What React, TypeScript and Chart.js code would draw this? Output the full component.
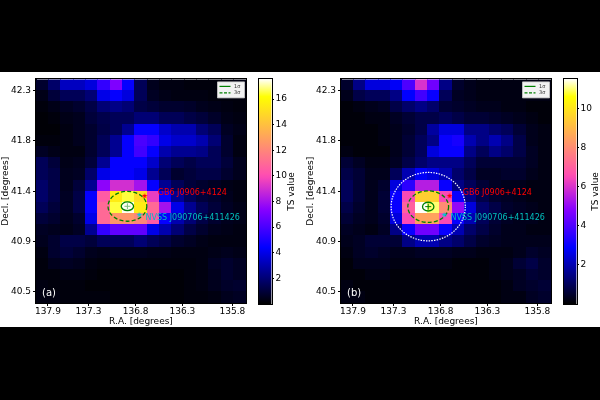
import React, { useEffect, useRef } from 'react';
import { Chart, registerables } from 'chart.js';
Chart.register(...registerables);

const FONT = 'DejaVu Sans';

// ---------- data ----------
const nCols = 17;
const nRows = 20;
const raTickPos = [0.97, 4.25, 8.06, 11.85, 15.9];
const raTickLabels = ['137.9', '137.3', '136.8', '136.3', '135.8'];
const decTickPos = [1, 5.5, 10, 14.5, 19];
const decTickLabels = ['40.5', '40.9', '41.4', '41.8', '42.3'];

// TS maps, rows from top (north) to bottom, columns left to right
const tsMapA = [
  [0.8, 1.8, 3.3, 3.3, 3.8, 5.5, 7.2, 4.5, 1.5, 0.5, 0.3, 0.3, 0.2, 0.2, 0.2, 0.2, 0.3],
  [0.4, 1.0, 1.5, 1.5, 2.0, 4.0, 4.5, 3.8, 1.5, 0.6, 0.4, 0.3, 0.3, 0.3, 0.2, 0.2, 0.2],
  [0.2, 0.4, 0.6, 0.8, 1.2, 2.0, 2.3, 2.0, 1.2, 1.0, 0.8, 0.8, 0.7, 0.5, 0.4, 0.3, 0.2],
  [0.1, 0.2, 0.4, 0.5, 1.0, 1.3, 1.5, 1.5, 2.0, 2.0, 1.5, 1.5, 1.2, 1.0, 0.7, 0.4, 0.3],
  [0.1, 0.1, 0.3, 0.5, 0.8, 1.2, 1.5, 2.5, 4.5, 4.5, 3.5, 3.0, 3.0, 2.0, 1.5, 0.6, 0.4],
  [0.2, 0.2, 0.3, 0.5, 0.8, 1.5, 2.5, 4.5, 6.0, 5.5, 4.0, 3.5, 3.5, 3.0, 2.0, 0.8, 0.3],
  [0.6, 0.4, 0.3, 0.3, 0.8, 1.5, 2.5, 4.5, 5.8, 4.5, 3.0, 2.5, 2.5, 2.3, 1.5, 0.8, 0.3],
  [1.5, 1.0, 0.4, 0.5, 1.0, 2.5, 4.5, 4.5, 4.5, 3.5, 2.0, 1.5, 1.2, 1.5, 1.5, 1.0, 0.5],
  [1.5, 1.2, 0.5, 0.6, 1.8, 4.0, 4.5, 4.5, 4.0, 2.5, 1.5, 0.8, 1.0, 1.2, 1.2, 0.8, 0.5],
  [1.8, 1.2, 0.5, 1.0, 2.5, 7.5, 9.0, 9.0, 8.0, 4.5, 2.5, 1.5, 1.0, 0.8, 0.6, 0.4, 0.3],
  [1.8, 1.2, 0.6, 1.2, 4.5, 10.5, 15.5, 16.5, 15.0, 9.5, 4.5, 2.5, 1.5, 1.0, 0.8, 0.5, 0.3],
  [1.5, 1.0, 0.6, 1.2, 4.5, 11.0, 16.5, 17.5, 15.5, 11.0, 8.0, 4.0, 2.5, 1.5, 1.0, 0.6, 0.4],
  [1.0, 0.8, 0.5, 0.8, 4.0, 11.0, 12.5, 12.5, 12.0, 10.5, 4.5, 3.0, 2.0, 1.2, 0.8, 0.5, 0.4],
  [0.6, 0.5, 0.4, 0.6, 2.5, 5.5, 6.5, 6.5, 6.5, 4.0, 3.0, 2.0, 1.2, 0.8, 0.5, 0.4, 0.3],
  [0.5, 0.8, 1.2, 1.2, 1.0, 1.5, 1.5, 1.5, 2.0, 1.5, 1.2, 0.8, 0.6, 0.4, 0.3, 0.3, 0.3],
  [0.3, 0.8, 1.0, 0.8, 0.5, 0.4, 0.5, 0.5, 0.5, 0.4, 0.4, 0.3, 0.3, 0.3, 0.4, 0.5, 0.4],
  [0.2, 0.5, 0.6, 0.5, 0.3, 0.2, 0.2, 0.2, 0.2, 0.2, 0.2, 0.2, 0.2, 0.3, 0.6, 0.8, 0.6],
  [0.2, 0.2, 0.3, 0.3, 0.2, 0.1, 0.1, 0.1, 0.1, 0.1, 0.1, 0.1, 0.2, 0.3, 0.5, 0.8, 0.6],
  [0.3, 0.2, 0.2, 0.2, 0.1, 0.1, 0.1, 0.1, 0.1, 0.1, 0.1, 0.1, 0.2, 0.3, 0.5, 0.7, 0.8],
  [0.3, 0.3, 0.2, 0.2, 0.2, 0.2, 0.1, 0.1, 0.1, 0.1, 0.1, 0.1, 0.2, 0.2, 0.3, 0.5, 0.6],
];

const tsMapB = [
  [0.5, 1.5, 2.5, 2.5, 2.8, 4.0, 6.0, 4.5, 1.5, 0.5, 0.3, 0.2, 0.2, 0.2, 0.2, 0.2, 0.2],
  [0.3, 0.8, 1.0, 1.0, 1.5, 2.9, 3.8, 3.0, 1.0, 0.4, 0.3, 0.2, 0.2, 0.2, 0.2, 0.2, 0.2],
  [0.1, 0.2, 0.3, 0.4, 0.8, 1.2, 1.5, 1.2, 0.6, 0.5, 0.4, 0.3, 0.3, 0.2, 0.2, 0.1, 0.1],
  [0.1, 0.1, 0.2, 0.2, 0.4, 0.6, 0.8, 0.8, 1.0, 0.8, 0.6, 0.6, 0.5, 0.4, 0.3, 0.2, 0.1],
  [0.1, 0.1, 0.1, 0.2, 0.3, 0.5, 0.8, 1.8, 2.5, 2.5, 1.5, 1.5, 1.2, 1.0, 0.6, 0.3, 0.2],
  [0.1, 0.1, 0.1, 0.2, 0.3, 0.6, 1.0, 1.5, 3.0, 3.2, 2.0, 1.5, 2.0, 1.5, 0.8, 0.3, 0.2],
  [0.2, 0.1, 0.1, 0.1, 0.3, 0.6, 1.0, 2.5, 3.0, 3.0, 1.5, 1.0, 1.5, 1.2, 0.8, 0.4, 0.2],
  [0.6, 0.4, 0.2, 0.2, 0.4, 0.8, 1.2, 1.5, 1.5, 1.5, 1.0, 0.6, 0.6, 0.6, 0.6, 0.4, 0.2],
  [0.8, 0.6, 0.3, 0.3, 1.0, 2.0, 2.8, 2.5, 2.0, 1.2, 0.8, 0.4, 0.4, 0.5, 0.5, 0.3, 0.2],
  [1.0, 0.6, 0.3, 0.5, 2.5, 3.5, 5.5, 5.5, 3.0, 1.5, 1.0, 0.6, 0.4, 0.3, 0.3, 0.2, 0.2],
  [1.0, 0.6, 0.3, 0.6, 3.0, 6.5, 9.5, 9.5, 6.5, 3.0, 1.5, 0.8, 0.5, 0.4, 0.3, 0.2, 0.2],
  [0.8, 0.5, 0.3, 0.6, 3.0, 7.0, 11.5, 11.0, 8.0, 5.0, 2.5, 1.2, 0.8, 0.5, 0.4, 0.3, 0.2],
  [0.6, 0.4, 0.3, 0.5, 2.5, 6.5, 8.5, 8.5, 6.5, 3.0, 2.0, 1.0, 0.6, 0.4, 0.3, 0.3, 0.2],
  [0.4, 0.3, 0.2, 0.4, 1.5, 3.0, 4.5, 4.5, 3.0, 2.0, 1.2, 0.8, 0.5, 0.3, 0.3, 0.2, 0.2],
  [0.3, 0.4, 0.6, 0.6, 0.6, 1.5, 2.0, 2.0, 1.5, 1.2, 0.8, 0.5, 0.4, 0.3, 0.3, 0.3, 0.3],
  [0.2, 0.4, 0.5, 0.4, 0.3, 0.3, 0.4, 0.4, 0.4, 0.3, 0.3, 0.2, 0.2, 0.2, 0.3, 0.5, 0.4],
  [0.1, 0.3, 0.3, 0.3, 0.2, 0.2, 0.2, 0.2, 0.2, 0.1, 0.1, 0.1, 0.2, 0.3, 0.6, 0.8, 0.5],
  [0.1, 0.1, 0.2, 0.2, 0.1, 0.1, 0.1, 0.1, 0.1, 0.1, 0.1, 0.1, 0.2, 0.3, 0.4, 0.6, 0.5],
  [0.2, 0.1, 0.1, 0.1, 0.1, 0.1, 0.1, 0.1, 0.1, 0.1, 0.1, 0.1, 0.1, 0.2, 0.4, 0.5, 0.6],
  [0.2, 0.2, 0.1, 0.1, 0.1, 0.1, 0.1, 0.1, 0.1, 0.1, 0.1, 0.1, 0.1, 0.2, 0.2, 0.4, 0.5],
];

const vmaxA = 17.57;
const vmaxB = 11.52;
const cbTicksA = [2, 4, 6, 8, 10, 12, 14, 16];
const cbTicksB = [2, 4, 6, 8, 10];

const gb6Label = 'GB6 J0906+4124';
const nvssLabel = 'NVSS J090706+411426';
const gb6Point = [{ x: 8.79, y: 9.58 }];
const nvssPoint = [{ x: 8.37, y: 7.89 }];
const gb6Text = { x: 9.86, y: 9.81 };
const nvssText = { x: 8.87, y: 7.62 };

const centerA = [{ x: 7.4, y: 8.65 }];
const sigma1A = { rx: 0.5, ry: 0.39 };
const sigma3A = { rx: 1.57, ry: 1.34 };
const centerB = [{ x: 7.06, y: 8.62 }];
const sigma1B = { rx: 0.46, ry: 0.39 };
const sigma3B = { rx: 1.65, ry: 1.41 };
const psfB = { rx: 3.0, ry: 3.06 };

// ---------- helpers ----------
const clamp = (v: number) => Math.max(0, Math.min(1, v));
function gnuplot2(t: number) {
  t = clamp(t);
  const r = clamp(t / 0.32 - 0.78125);
  const g = clamp(2 * t - 0.84);
  let b: number;
  if (t < 0.25) b = 4 * t;
  else if (t < 0.42) b = 1;
  else if (t < 0.92) b = -2 * t + 1.84;
  else b = t / 0.08 - 11.5;
  b = clamp(b);
  return `rgb(${Math.round(r * 255)},${Math.round(g * 255)},${Math.round(b * 255)})`;
}

function starImage(color: string, r: number) {
  const s = Math.ceil(r * 2 + 2);
  const c = document.createElement('canvas');
  c.width = s;
  c.height = s;
  const g = c.getContext('2d')!;
  g.translate(s / 2, s / 2);
  g.beginPath();
  for (let i = 0; i < 10; i++) {
    const rad = i % 2 === 0 ? r : r * 0.42;
    const a = -Math.PI / 2 + (i * Math.PI) / 5;
    g.lineTo(rad * Math.cos(a), rad * Math.sin(a));
  }
  g.closePath();
  g.fillStyle = color;
  g.fill();
  return c;
}

const heatPlugin = {
  id: 'heat',
  beforeDatasetsDraw(chart: any, _a: any, opts: any) {
    const { ctx, chartArea, scales } = chart;
    const xs = scales.x;
    const ys = scales.y;
    ctx.save();
    ctx.beginPath();
    ctx.rect(chartArea.left, chartArea.top, chartArea.width, chartArea.height);
    ctx.clip();
    (opts.values as number[][]).forEach((row, r) => {
      row.forEach((v, c) => {
        const x0 = xs.getPixelForValue(c);
        const x1 = xs.getPixelForValue(c + 1);
        const yt = ys.getPixelForValue(nRows - r);
        const yb = ys.getPixelForValue(nRows - r - 1);
        ctx.fillStyle = gnuplot2(v / opts.vmax);
        ctx.fillRect(Math.floor(x0), Math.floor(yt), Math.ceil(x1) - Math.floor(x0), Math.ceil(yb) - Math.floor(yt));
      });
    });
    // contours
    const drawEll = (cx: number, cy: number, e: any, color: string, dash: number[], lw: number) => {
      const px = xs.getPixelForValue(cx);
      const py = ys.getPixelForValue(cy);
      const rx = Math.abs(xs.getPixelForValue(cx + e.rx) - px);
      const ry = Math.abs(ys.getPixelForValue(cy + e.ry) - py);
      ctx.beginPath();
      ctx.setLineDash(dash);
      ctx.strokeStyle = color;
      ctx.lineWidth = lw;
      ctx.ellipse(px, py, rx, ry, 0, 0, Math.PI * 2);
      ctx.stroke();
    };
    const c = opts.center[0];
    if (opts.psf) drawEll(c.x, c.y, opts.psf, '#ffffff', [1.5, 1.2], 1.2);
    drawEll(c.x, c.y, opts.s3, '#008000', [4, 2.2], 1.3);
    drawEll(c.x, c.y, opts.s1, '#008000', [], 1.3);
    ctx.setLineDash([]);
    ctx.restore();
  },
  afterDraw(chart: any, _a: any, opts: any) {
    const { ctx, chartArea, scales } = chart;
    const xs = scales.x;
    const ys = scales.y;
    ctx.save();
    // labels
    ctx.font = `8px "${FONT}"`;
    ctx.textBaseline = 'middle';
    ctx.textAlign = 'left';
    ctx.fillStyle = '#ff0000';
    ctx.fillText(gb6Label, xs.getPixelForValue(gb6Text.x), ys.getPixelForValue(gb6Text.y));
    ctx.fillStyle = '#00bfbf';
    ctx.fillText(nvssLabel, xs.getPixelForValue(nvssText.x), ys.getPixelForValue(nvssText.y));
    // panel tag
    ctx.font = `10px "${FONT}"`;
    ctx.fillStyle = '#ffffff';
    ctx.fillText(opts.tag, chartArea.left + 6, chartArea.bottom - 10);
    // legend
    const bw = 27, bh = 16;
    const bx = chartArea.right - 2 - bw;
    const by = chartArea.top + 2;
    ctx.fillStyle = 'rgba(255,255,255,0.95)';
    ctx.strokeStyle = '#cccccc';
    ctx.lineWidth = 0.8;
    ctx.beginPath();
    ctx.rect(bx + 0.5, by + 0.5, bw, bh);
    ctx.fill();
    ctx.stroke();
    ctx.strokeStyle = '#008000';
    ctx.lineWidth = 1.2;
    ctx.beginPath();
    ctx.moveTo(bx + 2.5, by + 5);
    ctx.lineTo(bx + 13.5, by + 5);
    ctx.stroke();
    ctx.setLineDash([3, 1.5]);
    ctx.beginPath();
    ctx.moveTo(bx + 2.5, by + 11.5);
    ctx.lineTo(bx + 13.5, by + 11.5);
    ctx.stroke();
    ctx.setLineDash([]);
    ctx.fillStyle = '#333';
    ctx.font = `5px "${FONT}"`;
    ctx.fillText('1σ', bx + 17, by + 5);
    ctx.fillText('3σ', bx + 17, by + 11.5);
    // frame
    ctx.strokeStyle = '#000';
    ctx.lineWidth = 1;
    ctx.strokeRect(Math.round(chartArea.left) - 0.5, Math.round(chartArea.top) - 0.5, Math.round(chartArea.width) + 1, Math.round(chartArea.height) + 1);
    ctx.restore();
  },
};

const axisFont = { family: FONT, size: 9 };

function HeatPanel(props: any) {
  const ref = useRef<HTMLCanvasElement>(null);
  useEffect(() => {
    const chart = new Chart(ref.current!, {
      type: 'scatter',
      data: {
        datasets: [
          {
            data: props.center,
            pointStyle: 'cross',
            radius: 3,
            borderColor: props.crossColor,
            borderWidth: 1,
          },
          {
            data: gb6Point,
            pointStyle: starImage('#ff0000', 3) as any,
          },
          {
            data: nvssPoint,
            pointStyle: starImage('#00c8d8', 3) as any,
          },
        ],
      },
      options: {
        animation: false,
        responsive: false,
        devicePixelRatio: 1,
        layout: { padding: { left: 0, top: 2, right: 6, bottom: 0 } },
        plugins: {
          legend: { display: false },
          tooltip: { enabled: false },
          heat: {
            values: props.values,
            vmax: props.vmax,
            center: props.center,
            s1: props.s1,
            s3: props.s3,
            psf: props.psf,
            tag: props.tag,
          },
        } as any,
        scales: {
          x: {
            type: 'linear',
            min: 0,
            max: nCols,
            afterBuildTicks: (s: any) => {
              s.ticks = raTickPos.map((v) => ({ value: v }));
            },
            afterFit: (s: any) => {
              s.height = 24;
            },
            ticks: {
              autoSkip: false,
              maxRotation: 0,
              padding: 0,
              color: '#000',
              font: axisFont,
              callback: (_v: any, i: number) => raTickLabels[i],
            },
            grid: { drawOnChartArea: false, drawTicks: true, tickLength: 3, color: '#000' },
            border: { display: true, color: '#000' },
            title: { display: true, text: 'R.A. [degrees]', color: '#000', font: axisFont, padding: { top: 0, bottom: 0 } },
          },
          y: {
            type: 'linear',
            min: 0,
            max: nRows,
            afterBuildTicks: (s: any) => {
              s.ticks = decTickPos.map((v) => ({ value: v }));
            },
            afterFit: (s: any) => {
              s.width = 36;
            },
            ticks: {
              autoSkip: false,
              padding: 2,
              color: '#000',
              font: axisFont,
              callback: (_v: any, i: number) => decTickLabels[i],
            },
            grid: { drawOnChartArea: false, drawTicks: true, tickLength: 3, color: '#000' },
            border: { display: true, color: '#000' },
            title: { display: true, text: 'Decl. [degrees]', color: '#000', font: axisFont, padding: { top: 0, bottom: 0 } },
          },
        } as any,
      },
      plugins: [heatPlugin],
    } as any);
    return () => chart.destroy();
  }, []);
  return (
    <canvas
      ref={ref}
      width={252}
      height={255}
      style={{ position: 'absolute', left: props.left, top: 72, width: 252, height: 255 }}
    />
  );
}

const cbPlugin = {
  id: 'cbframe',
  afterDraw(chart: any, _a: any, opts: any) {
    const { ctx, chartArea } = chart;
    ctx.save();
    ctx.strokeStyle = '#000';
    ctx.lineWidth = 1;
    ctx.strokeRect(Math.round(chartArea.left) - 0.5, Math.round(chartArea.top) - 0.5, Math.round(chartArea.width) + 1, Math.round(chartArea.height) + 1);
    ctx.translate(opts.titleX, (chartArea.top + chartArea.bottom) / 2);
    ctx.rotate(-Math.PI / 2);
    ctx.font = `9px "${FONT}"`;
    ctx.fillStyle = '#000';
    ctx.textAlign = 'center';
    ctx.textBaseline = 'middle';
    ctx.fillText('TS value', 0, 0);
    ctx.restore();
  },
};

function ColorBar(props: any) {
  const ref = useRef<HTMLCanvasElement>(null);
  useEffect(() => {
    const chart = new Chart(ref.current!, {
      type: 'bar',
      data: {
        labels: ['TS'],
        datasets: [
          {
            data: [[0, props.vmax]],
            barPercentage: 1,
            categoryPercentage: 1,
            borderWidth: 0,
            backgroundColor: (ctx: any) => {
              const ca = ctx.chart.chartArea;
              if (!ca) return '#000';
              const g = ctx.chart.ctx.createLinearGradient(0, ca.bottom, 0, ca.top);
              for (let i = 0; i <= 64; i++) g.addColorStop(i / 64, gnuplot2(i / 64));
              return g;
            },
          },
        ],
      },
      options: {
        animation: false,
        responsive: false,
        devicePixelRatio: 1,
        layout: { padding: { left: 7, top: 2, right: 0, bottom: 23 } },
        plugins: {
          legend: { display: false },
          tooltip: { enabled: false },
          cbframe: { titleX: props.titleX },
        } as any,
        scales: {
          x: { display: false },
          y: {
            position: 'right',
            min: 0,
            max: props.vmax,
            afterBuildTicks: (s: any) => {
              s.ticks = props.ticks.map((v: number) => ({ value: v }));
            },
            afterFit: (s: any) => {
              s.width = props.axisWidth;
            },
            ticks: { autoSkip: false, padding: 1.5, color: '#000', font: axisFont },
            grid: { drawOnChartArea: false, drawTicks: true, tickLength: 2.5, color: '#000' },
            border: { display: false },
          },
        } as any,
      },
      plugins: [cbPlugin],
    } as any);
    return () => chart.destroy();
  }, []);
  return (
    <canvas
      ref={ref}
      width={props.width}
      height={255}
      style={{ position: 'absolute', left: props.left, top: 72, width: props.width, height: 255 }}
    />
  );
}

export default function App() {
  return (
    <div style={{ position: 'absolute', left: 0, top: 0, width: 600, height: 400, background: '#000', overflow: 'hidden' }}>
      <div style={{ position: 'absolute', left: 0, top: 72, width: 600, height: 255, background: '#fff' }} />
      <HeatPanel left={0} values={tsMapA} vmax={vmaxA} center={centerA} s1={sigma1A} s3={sigma3A} tag="(a)" crossColor="#7fbf7f" />
      <ColorBar left={252} width={48} vmax={vmaxA} ticks={cbTicksA} axisWidth={28.5} titleX={40} />
      <HeatPanel left={305} values={tsMapB} vmax={vmaxB} center={centerB} s1={sigma1B} s3={sigma3B} psf={psfB} tag="(b)" crossColor="#008000" />
      <ColorBar left={557} width={43} vmax={vmaxB} ticks={cbTicksB} axisWidth={23.5} titleX={38.5} />
    </div>
  );
}
